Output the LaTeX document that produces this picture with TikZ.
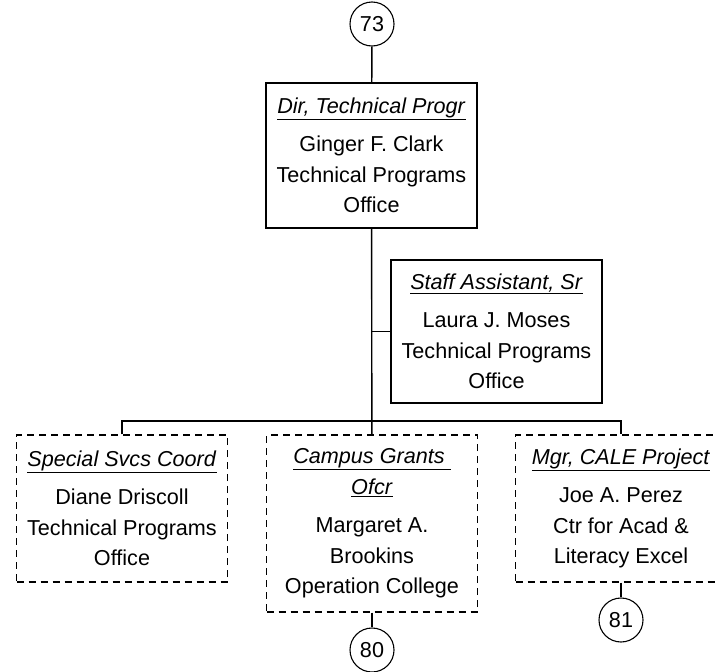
\documentclass[tikz,border=0pt]{standalone}
\usepackage{fontspec}
\setmainfont{Liberation Sans}
\usetikzlibrary{positioning}
\newcommand{\jobtitle}[1]{\underline{\textit{#1}}}

\begin{document}
\begin{tikzpicture}[x=1pt, y=-1pt, font=\fontsize{21.6}{30.5}\selectfont,
  post/.style={draw, line width=1.4pt, align=center, minimum width=211pt, inner sep=0pt},
  vacant/.style={post, dash pattern=on 7pt off 5pt},
  pageref/.style={draw, circle, line width=1.1pt, minimum size=44pt, inner sep=0pt},
  ln/.style={line width=1.4pt}]
\clip (0,0) rectangle (715,672);
\node[pageref] (p73) at (372,24) {73};
\node[post, minimum height=145pt] (dir) at (371.5,155.5) {\jobtitle{Dir, Technical Progr}\\[8pt] Ginger F. Clark\\ Technical Programs\\ Office};
\node[post, minimum height=143pt] (staff) at (496.5,331.5) {\jobtitle{Staff Assistant, Sr}\\[8pt] Laura J. Moses\\ Technical Programs\\ Office};
\node[vacant, minimum height=147pt] (special) at (122,508.5) {\jobtitle{Special Svcs Coord}\\[8pt] Diane Driscoll\\ Technical Programs\\ Office};
\node[vacant, minimum height=177pt] (campus) at (372,523.5) {\jobtitle{Campus Grants\ }\\ \jobtitle{Ofcr}\\[8pt] Margaret A.\\ Brookins\\ Operation College};
\node[vacant, minimum height=147pt] (mgr) at (621,508.5) {\jobtitle{Mgr, CALE Project}\\[8pt] Joe A. Perez\\ Ctr for Acad \&\\ Literacy Excel};
\node[pageref] (p80) at (372,650) {80};
\node[pageref] (p81) at (621,620) {81};
\coordinate (bar) at (372,421);
% reporting lines
\draw[ln] (p73) -- (dir);
\draw[ln] (dir) -- (campus);
\draw[ln] (staff.west) -- (staff.west -| dir.south);
\draw[ln] (special.north) |- (bar) -| (mgr.north);
\draw[ln] (campus) -- (p80); \draw[ln] (mgr) -- (p81);
\end{tikzpicture}
\end{document}
